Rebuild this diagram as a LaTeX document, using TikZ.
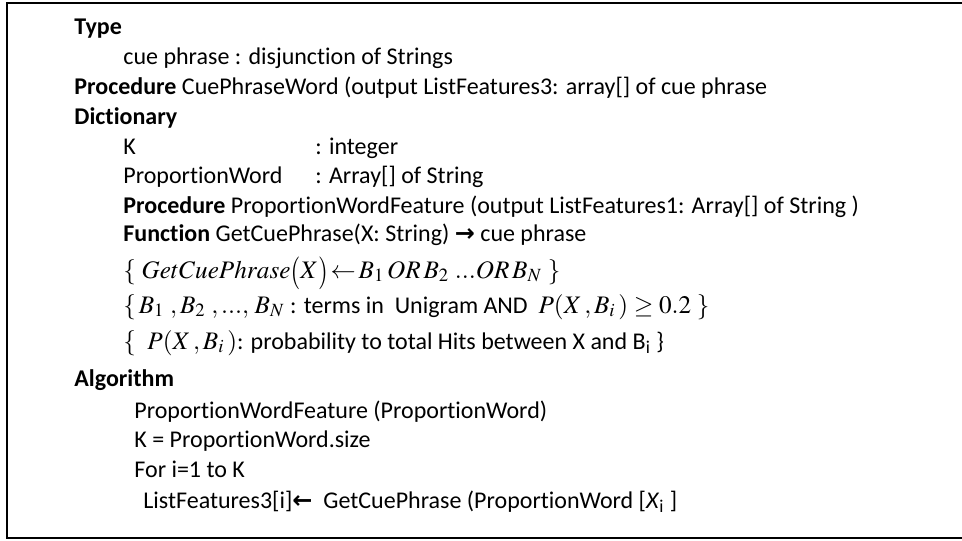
\documentclass[tikz,border=0pt]{standalone}
\usepackage{mathptmx}
\usepackage[no-math]{fontspec}
\setmainfont{Carlito}[RawFeature=-liga]
\newfontfamily\arrowfont{DejaVu Sans}
\newcommand{\mth}[1]{{\fontsize{12.6}{15}\selectfont$#1$}}
\newcommand{\bigpar}[1]{\mathopen{\raisebox{-0.25ex}{\scalebox{1}[1.3]{$($}}}#1\mathclose{\raisebox{-0.25ex}{\scalebox{1}[1.3]{$)$}}}}
\newcommand{\rarr}{{\arrowfont\bfseries →}}
\newcommand{\larr}{{\arrowfont\bfseries ←}}

\begin{document}
\begin{tikzpicture}[x=0.5pt,y=-0.5pt,
  line/.style={anchor=base west,inner sep=0pt,font=\fontsize{12}{14}\selectfont},
  frame/.style={line width=1.1pt}]
			%%%%% START %%%%%
			\useasboundingbox (0,0) rectangle (962,540);
			\draw[frame] (962,3) -- (7,3) -- (7,538) -- (962,538);

			\node[line] (type) at (74,35) {\textbf{Type}};
			\node[line] (cue) at (123,65) {cue phrase : disjunction of Strings};
			\node[line] (proc) at (74,95) {\textbf{Procedure} CuePhraseWord (output ListFeatures3: array[] of cue phrase};
			\node[line] (dict) at (74,124) {\textbf{Dictionary}};
			\node[line] (k) at (123,154) {K};
			\node[line] (kt) at (315,154) {: integer};
			\node[line] (pw) at (123,183) {ProportionWord};
			\node[line] (pwt) at (315,183) {: Array[] of String};
			\node[line] (pwf) at (123,213) {\textbf{Procedure} ProportionWordFeature (output ListFeatures1: Array[] of String )};
			\node[line] (fn) at (123,241) {\textbf{Function} GetCuePhrase(X: String) \rarr\ cue phrase};
			\node[line] (m1) at (123,278) {\mth{\{\;GetCuePhrase\bigpar{X}\!\leftarrow\! B_1\,OR\,B_2\;...OR\,B_N\;\}}};
			\node[line] (m2) at (123,313) {\mth{\{\,B_1\ ,B_2\ ,...,\,B_N} : terms in~ Unigram AND~ \mth{P(X\,,B_i\,)\geq 0.2\ \}}};
			\node[line] (m3) at (123,349) {\mth{\{\ \ P(X\,,B_i\,)}: probability to total Hits between X and B\textsubscript{i} \}};

			\node[line] (alg) at (74,386) {\textbf{Algorithm}};
			\node[line] (a1) at (134,418) {ProportionWordFeature (ProportionWord)};
			\node[line] (a2) at (134,447) {K = ProportionWord.size};
			\node[line] (a3) at (134,477) {For i=1 to K};
			\node[line] (a4) at (143,508) {ListFeatures3[i]{\large\larr}\ \ GetCuePhrase (ProportionWord [\textit{X}\textsubscript{i} ]};
			%%%%% END %%%%%
\end{tikzpicture}
\end{document}
